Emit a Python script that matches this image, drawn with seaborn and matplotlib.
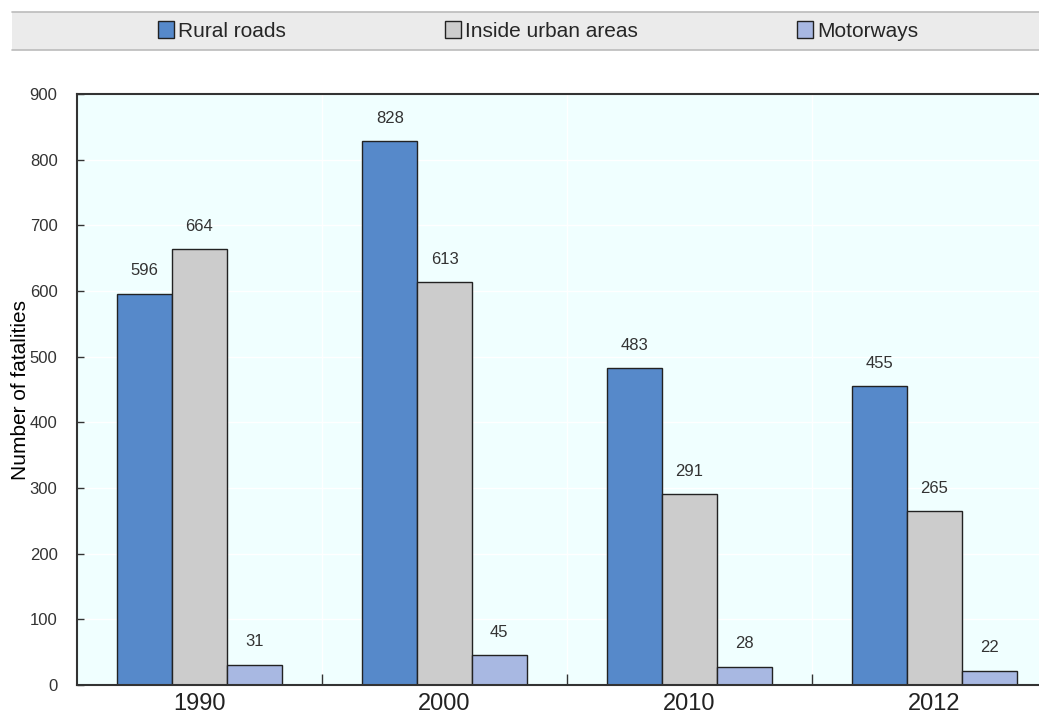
import matplotlib
matplotlib.use("Agg")
import matplotlib.pyplot as plt
import seaborn as sns
import pandas as pd
from matplotlib.patches import Rectangle, Patch
from matplotlib.lines import Line2D

years = ["1990", "2000", "2010", "2012"]
series_names = ["Rural roads", "Inside urban areas", "Motorways"]
rural_roads = [596, 828, 483, 455]
inside_urban = [664, 613, 291, 265]
motorways = [31, 45, 28, 22]
colors = ["#5689CA", "#CCCCCC", "#A8B8E2"]
y_label = "Number of fatalities"
y_ticks = [0, 100, 200, 300, 400, 500, 600, 700, 800, 900]

rows = []
for name, vals in zip(series_names, [rural_roads, inside_urban, motorways]):
    for yr, v in zip(years, vals):
        rows.append({"Year": yr, "Series": name, "Value": v})
df = pd.DataFrame(rows)

sns.set_theme(style="white")
plt.rcParams["font.family"] = ["Liberation Sans Narrow", "Liberation Sans", "DejaVu Sans"]

fig = plt.figure(figsize=(10.39, 7.2), dpi=100)
ax = fig.add_axes([77 / 1039, 35 / 720, 980 / 1039, 591 / 720])
ax.set_facecolor("#F0FFFF")

sns.barplot(data=df, x="Year", y="Value", hue="Series", order=years,
            hue_order=series_names, palette=colors, width=0.67,
            edgecolor="#222222", linewidth=1.0, saturation=1, ax=ax,
            legend=False)

for cont in ax.containers:
    ax.bar_label(cont, fmt="%d", padding=11, fontsize=12, color="#333333")

ax.set_xlim(-0.5, 3.5)
ax.set_ylim(0, 900)
ax.set_yticks(y_ticks)
ax.set_xlabel("")
ax.set_ylabel(y_label, fontsize=15, color="black")
ax.yaxis.set_label_coords(-0.048, 0.5)

ax.tick_params(axis="y", direction="in", length=5, width=1, color="#333333",
               labelsize=12, labelcolor="#333333", left=True, pad=14)
ax.tick_params(axis="x", which="major", length=0, labelsize=17, labelcolor="#222222", pad=6)
ax.set_xticks([0.5, 1.5, 2.5], minor=True)
ax.tick_params(axis="x", which="minor", direction="in", length=8, width=1,
               color="#333333", bottom=True)

ax.grid(True, axis="y", color="white", linewidth=1)
ax.grid(True, axis="x", which="minor", color="white", linewidth=1)
ax.set_axisbelow(True)

for side in ["left", "bottom", "top"]:
    ax.spines[side].set_visible(True)
    ax.spines[side].set_color("#333333")
    ax.spines[side].set_linewidth(1.5)
ax.spines["right"].set_visible(False)

# legend band
band = Rectangle((12 / 1039, (720 - 50) / 720), 1 - 12 / 1039, 38 / 720,
                 transform=fig.transFigure, facecolor="#EBEBEB",
                 edgecolor="none", zorder=0)
fig.patches.append(band)
for yy in [(720 - 50) / 720, (720 - 12) / 720]:
    fig.lines.append(Line2D([12 / 1039, 1], [yy, yy], transform=fig.transFigure,
                            color="#BBBBBB", linewidth=1.2))

handles = [Patch(facecolor=c, edgecolor="#222222", linewidth=1) for c in colors]
fig.legend(handles, series_names, loc="center",
           bbox_to_anchor=(158 / 1039, (720 - 50) / 720, (918 - 158) / 1039, 38 / 720),
           mode="expand", ncol=3, frameon=False, fontsize=15,
           handlelength=0.75, handleheight=0.9, handletextpad=0.2,
           borderaxespad=0, borderpad=0)

fig.savefig("out.png", dpi=100)
